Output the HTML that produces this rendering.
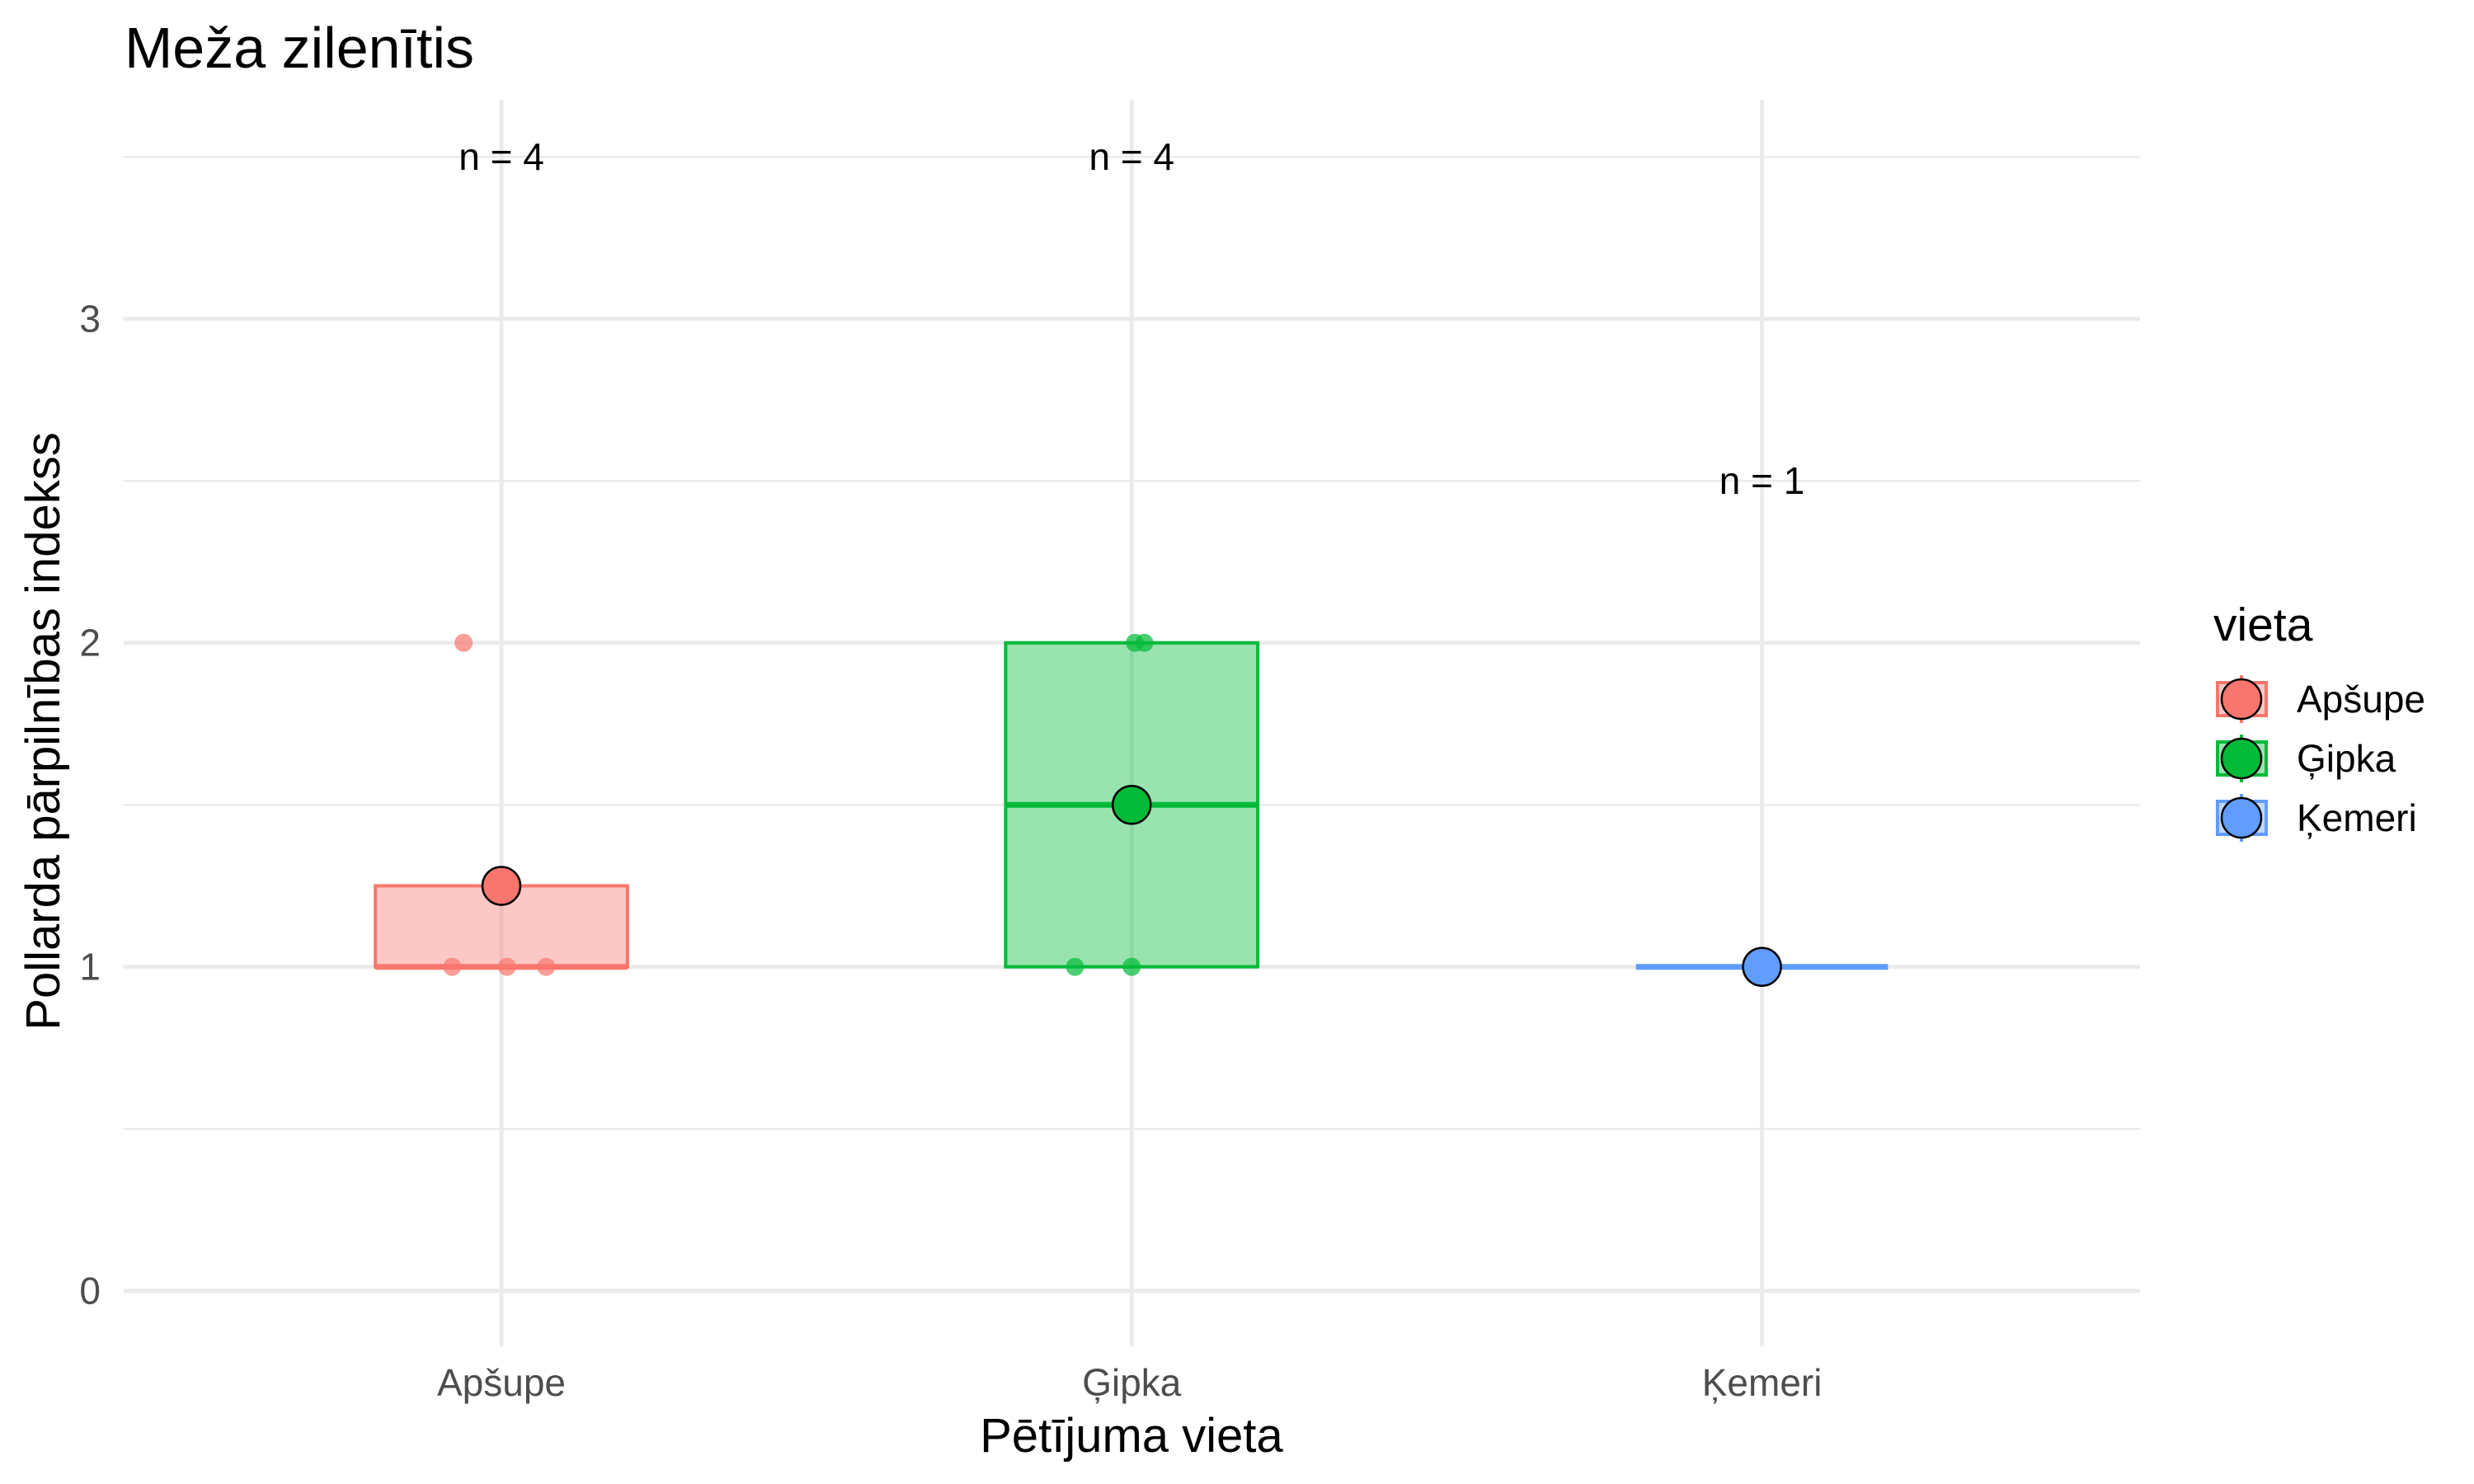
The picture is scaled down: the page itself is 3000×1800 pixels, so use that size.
<!DOCTYPE html>
<html><head><meta charset="utf-8"><style>
html,body{margin:0;padding:0;background:#fff;}
svg{display:block;font-family:"Liberation Sans",sans-serif;}
</style></head><body>
<svg id="chart" width="3000" height="1800" viewBox="0 0 3000 1800">
<text x="151" y="82" font-size="70" fill="#000">Meža zilenītis</text>
<g id="grid"></g><g id="marks"></g><g id="axes"></g>
<text x="1372" y="1761" font-size="58" text-anchor="middle" fill="#000">Pētījuma vieta</text>
<text transform="translate(72,887) rotate(-90)" font-size="58" text-anchor="middle" fill="#000">Pollarda pārpilnības indekss</text>
<g id="legend"></g>
</svg>
<script>
const categories = ["Apšupe","Ģipka","Ķemeri"];
const colors = ["#F8766D","#00BA38","#619CFF"];
const boxLower = [1,1,1];
const boxMedian = [1,1.5,1];
const boxUpper = [1.25,2,1];
const means = [1.25,1.5,1];
const counts = [4,4,1];
const countY = [3.5,3.5,2.5];
const pointCat = [0,0,0,0,1,1,1,1,2];
const pointVal = [2,1,1,1,2,2,1,1,1];
const pointJitter = [-0.06,-0.078,0.009,0.071,0.005,0.02,-0.09,0,0];
const yTicks = [0,1,2,3];
const yMinor = [0.5,1.5,2.5,3.5];

const NS="http://www.w3.org/2000/svg";
const L=149.5,R=2595,T=121,B=1633;
const y=v=>1565.7-v*393;
const bw=764.3;
const x=i=>608+i*bw;
function mk(tag,attrs,parent){const e=document.createElementNS(NS,tag);for(const k in attrs)e.setAttribute(k,attrs[k]);parent.appendChild(e);return e;}
const grid=document.getElementById('grid'),marks=document.getElementById('marks'),axes=document.getElementById('axes'),legend=document.getElementById('legend');
yMinor.forEach(v=>{const l=mk('line',{x1:L,x2:R,y1:y(v),y2:y(v),stroke:'#ebebeb','stroke-width':2.5},grid);

});
yTicks.forEach(v=>{const l=mk('line',{x1:L,x2:R,y1:y(v),y2:y(v),stroke:'#ebebeb','stroke-width':5},grid);


const t=mk('text',{x:122,y:y(v)+16,'font-size':46,'text-anchor':'end',fill:'#4d4d4d'},axes);t.textContent=v;

});
categories.forEach((c,i)=>{const l=mk('line',{x1:x(i),x2:x(i),y1:T,y2:B,stroke:'#ebebeb','stroke-width':5},grid);


const t=mk('text',{x:x(i),y:1693,'font-size':46,'text-anchor':'middle',fill:'#4d4d4d'},axes);t.textContent=c;

});
categories.forEach((c,i)=>{const x0=x(i)-bw*0.2,w=bw*0.4;
const r=mk('rect',{x:x0,y:y(boxUpper[i]),width:w,height:Math.max(0,y(boxLower[i])-y(boxUpper[i])),fill:colors[i],'fill-opacity':0.4,stroke:colors[i],'stroke-width':4},marks);


const m=mk('line',{x1:x0,x2:x0+w,y1:y(boxMedian[i]),y2:y(boxMedian[i]),stroke:colors[i],'stroke-width':7},marks);

});
pointVal.forEach((v,k)=>{const i=pointCat[k];const p=mk('circle',{cx:x(i)+pointJitter[k]*bw,cy:y(v),r:11,fill:colors[i],'fill-opacity':0.7},marks);

});
categories.forEach((c,i)=>{const p=mk('circle',{cx:x(i),cy:y(means[i]),r:23,fill:colors[i],stroke:'#000','stroke-width':2.5},marks);


const t=mk('text',{x:x(i),y:y(countY[i])+16,'font-size':46,'text-anchor':'middle',fill:'#000'},marks);t.textContent='n = '+counts[i];

});
const lt=mk('text',{x:2684,y:777,'font-size':57,fill:'#000'},legend);lt.textContent='vieta';


categories.forEach((c,i)=>{const cy=848+i*72;const g=mk('g',{},legend);


mk('rect',{x:2689,y:cy-20,width:59,height:40,fill:colors[i],'fill-opacity':0.4,stroke:colors[i],'stroke-width':4},g);
mk('line',{x1:2718,x2:2718,y1:cy-29,y2:cy+29,stroke:colors[i],'stroke-width':4},g);
mk('circle',{cx:2718,cy:cy,r:24,fill:colors[i],stroke:'#000','stroke-width':2.5},g);
const t=mk('text',{x:2785,y:cy+16,'font-size':46,fill:'#000'},g);t.textContent=c;});
</script>
</body></html>
